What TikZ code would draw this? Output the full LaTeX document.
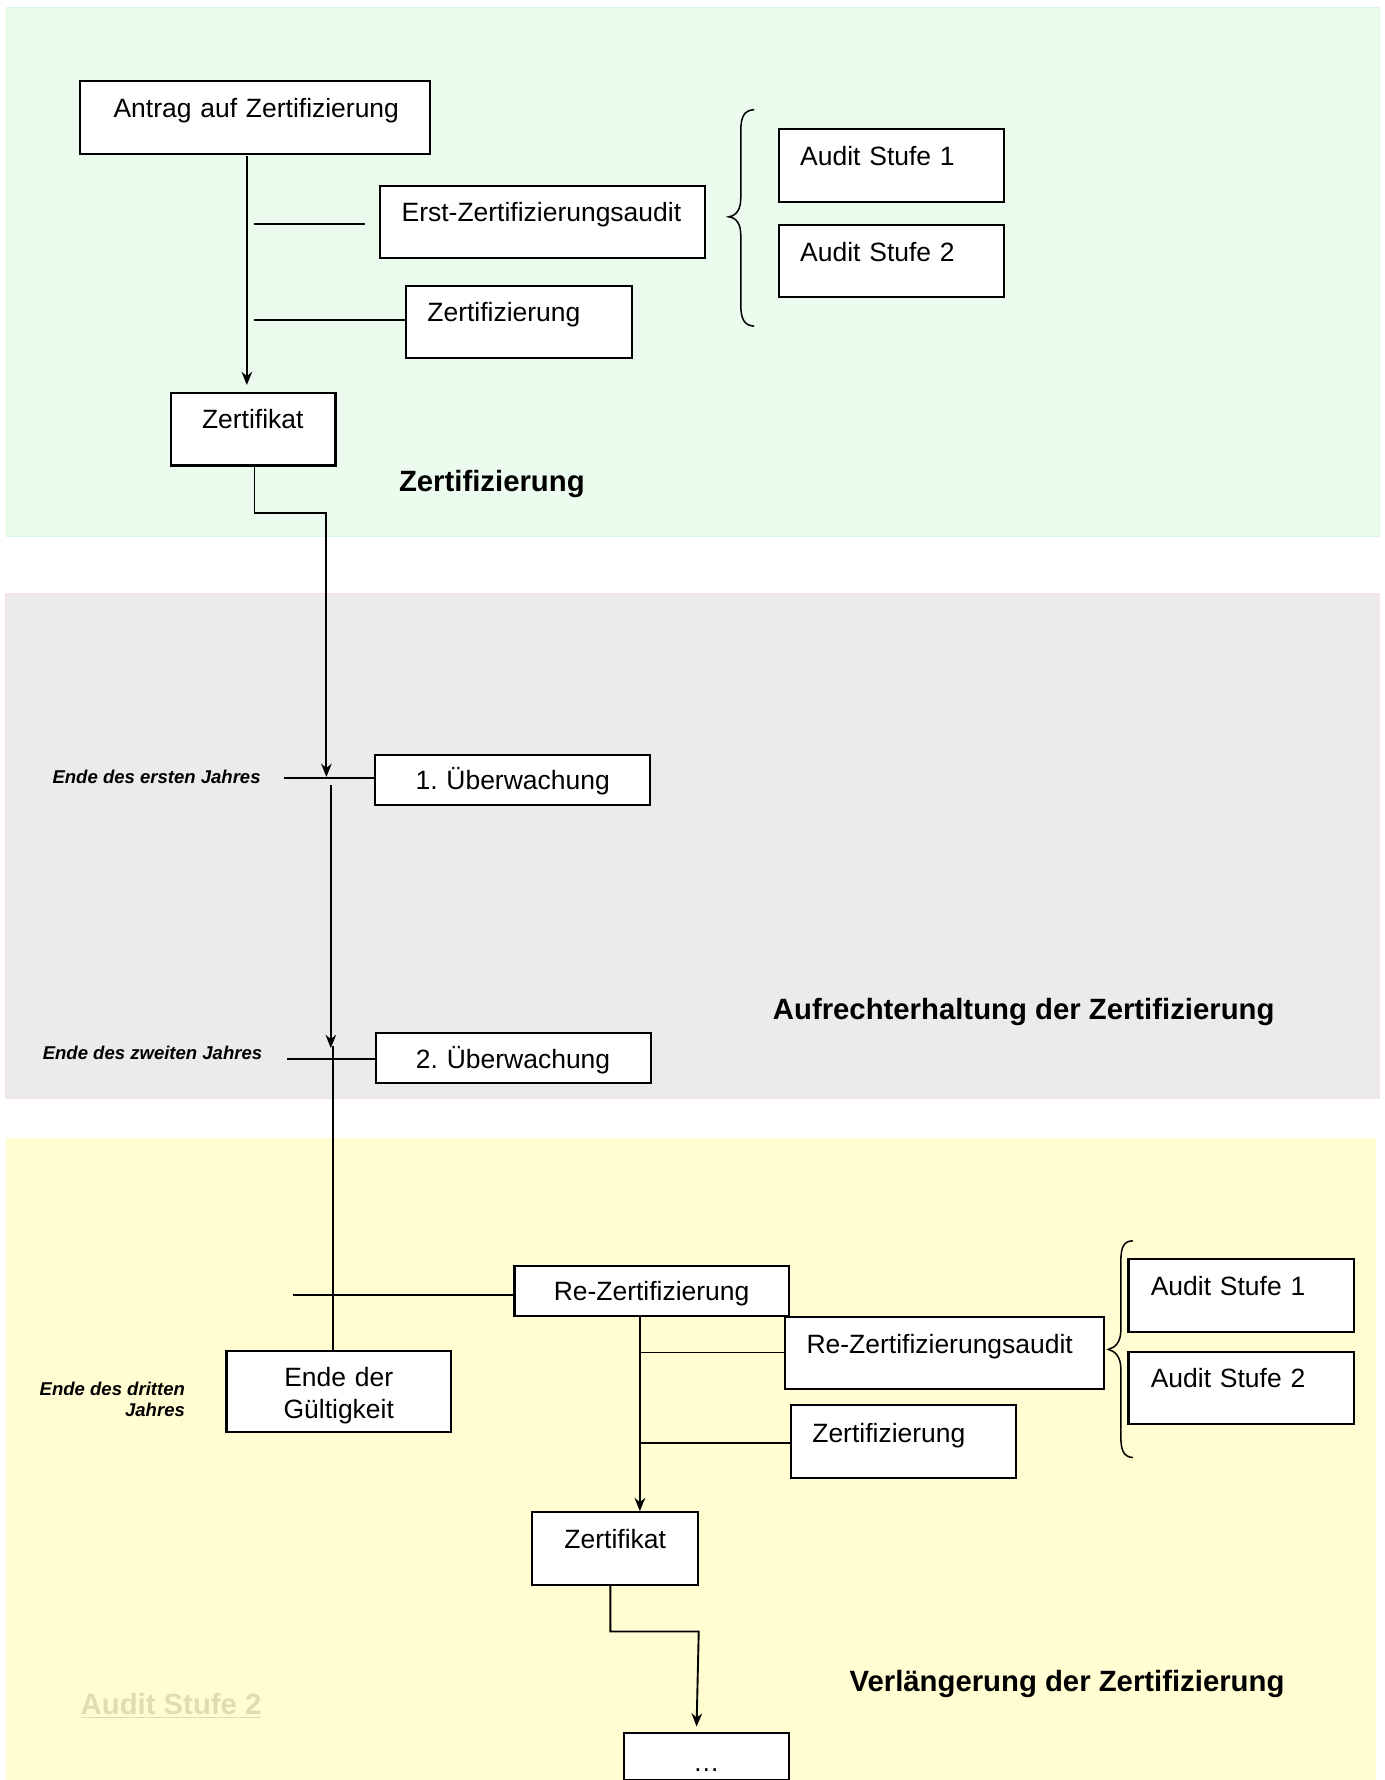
\documentclass[tikz,border=0pt]{standalone}
\usepackage{fontspec}
\setmainfont{Liberation Sans}
\usetikzlibrary{arrows.meta}
\frenchspacing
\definecolor{grnfill}{HTML}{EBFCEF}
\definecolor{grnline}{HTML}{DCF5E1}
\definecolor{gryfill}{HTML}{ECEBEB}
\definecolor{gryline}{HTML}{F5E1E6}
\definecolor{yelfill}{HTML}{FFFDD1}
\definecolor{ghost}{HTML}{E2DDAE}
\tikzset{
  boxL/.style={draw=black, fill=white, line width=1.1pt, inner sep=0pt, anchor=north west, align=left, font=\fontsize{14}{16.8}\selectfont},
  boxC/.style={boxL, align=center},
  conn/.style={line width=1pt, black},
  arr/.style={conn, -{Stealth[length=7pt,width=5.6pt]}},
  brace/.style={line width=0.8pt, black},
  phase/.style={anchor=base west, inner sep=0pt, font=\fontsize{15.5}{18}\selectfont\bfseries},
  yearlbl/.style={inner sep=0pt, font=\fontsize{9.8}{11}\selectfont\bfseries\itshape}
}
\begin{document}
\begin{tikzpicture}[x=0.6pt,y=-0.6pt]
\useasboundingbox (0,0) rectangle (1220,1569);
% regions
\fill[grnfill, draw=grnline, line width=0.6pt] (5.9,6.5) rectangle (1215.8,473.2);
\fill[gryfill, draw=gryline, line width=0.6pt] (5.1,523.6) rectangle (1215.8,968.5);
\fill[yelfill] (5.1,1003.3) rectangle (1213,1572);

% ---------- Zertifizierung ----------
\node[boxL, text width=185.1pt, text height=19.1pt, text depth=19.5pt] (antrag) at (70,70.5) {\hspace*{17.5pt}Antrag auf Zertifizierung};
\node[boxL, text width=171.9pt, text height=19.0pt, text depth=19.2pt] (erst) at (334.1,163.1) {\hspace*{11.4pt}Erst-Zertifizierungsaudit};
\node[boxL, text width=119.3pt, text height=18.8pt, text depth=19.5pt] (zert1) at (357.3,251) {\hspace*{11.1pt}Zertifizierung};
\node[boxL, text width=87.2pt, text height=18.7pt, text depth=19.5pt] (zk1) at (149.5,345.7) {\hspace*{16.6pt}Zertifikat};
\node[boxL, text width=119.3pt, text height=19.3pt, text depth=19.3pt] (as1) at (685.6,112.7) {\hspace*{11.3pt}Audit Stufe 1};
\node[boxL, text width=119.3pt, text height=19.1pt, text depth=19.2pt] (as2) at (685.6,197.4) {\hspace*{11.3pt}Audit Stufe 2};
\node[phase] (lblz) at (351.4,433.6) {Zertifizierung};

\coordinate (a1s) at (217.6,137.6);
\coordinate (a1e) at (217.6,339.4);
\draw[arr] (a1s) -- (a1e);
\coordinate (b1s) at (224.3,197.7);
\coordinate (b1e) at (321.9,197.7);
\draw[conn] (b1s) -- (b1e);
\coordinate (b2s) at (224.3,282.4);
\draw[conn] (b2s) -- (b2s -| zert1.west);
\coordinate (c1a) at (224.3,409.8);
\coordinate (c1b) at (224.3,451.8);
\coordinate (c1c) at (287.7,451.8);
\coordinate (c1d) at (287.7,684.8);
\draw[arr] (c1a) -- (c1b) -- (c1c) -- (c1d);
\draw[brace] (664.8,96.7) .. controls (656,97) and (653,103) .. (653,115) -- (653,174)
  .. controls (653,185) and (649,190) .. (642.4,191.1)
  .. controls (649,192) and (653,197) .. (653,208) -- (653,269)
  .. controls (653,281) and (656,287) .. (664.8,287.5);

% ---------- Aufrechterhaltung ----------
\node[boxC, text width=145.4pt, text height=18.5pt, text depth=8.1pt] (ue1) at (329.8,664.4) {1. Überwachung};
\node[boxC, text width=145.4pt, text height=18.5pt, text depth=7.9pt] (ue2) at (330.2,910) {2. Überwachung};
\node[yearlbl, anchor=base west] (y1) at (46,690.8) {Ende des ersten Jahres};
\node[yearlbl, anchor=base west] (y2) at (37.4,933.6) {Ende des zweiten Jahres};
\node[phase] (lbla) at (681,899) {Aufrechterhaltung der Zertifizierung};

\coordinate (d1s) at (250.3,685.5);
\draw[conn] (d1s) -- (d1s -| ue1.west);
\coordinate (v2s) at (291.6,692.1);
\coordinate (v2e) at (291.6,923.8);
\draw[arr] (v2s) -- (v2e);
\coordinate (d2s) at (253,933.6);
\draw[conn] (d2s) -- (d2s -| ue2.west);

% ---------- Verlaengerung ----------
\node[boxC, text width=145pt, text height=18.3pt, text depth=8.5pt] (rez) at (452.6,1114.8) {Re-Zertifizierung};
\node[boxC, text width=118.8pt, minimum height=42.4pt] (ende) at (198.7,1190.3) {\rule{0pt}{14.4pt}Ende der\\Gültigkeit};
\node[boxL, text width=168.5pt, text height=19.3pt, text depth=18.9pt] (reza) at (691.2,1159.8) {\hspace*{11.3pt}Re-Zertifizierungsaudit};
\node[boxL, text width=119.2pt, text height=19.6pt, text depth=18.6pt] (zert2) at (696.3,1237.9) {\hspace*{11.3pt}Zertifizierung};
\node[boxL, text width=87.4pt, text height=19.4pt, text depth=19.0pt] (zk2) at (468.3,1332) {\hspace*{17pt}Zertifikat};
\node[boxL, text width=119.5pt, text height=19.4pt, text depth=18.9pt] (as3) at (993.8,1109.1) {\hspace*{11.8pt}Audit Stufe 1};
\node[boxL, text width=119.5pt, text height=18.7pt, text depth=19.5pt] (as4) at (993.8,1190.6) {\hspace*{11.8pt}Audit Stufe 2};
\node[boxC, text width=87.2pt, text height=20.4pt, text depth=4.7pt] (dots) at (549,1526.3) {…};
\node[yearlbl, anchor=north east, align=right] (y3) at (163.3,1218) {Ende des dritten\\Jahres};
\node[phase] (lblv) at (748.6,1491) {Verlängerung der Zertifizierung};
\node[phase, text=ghost] (ghost) at (70.8,1510.9) {\underline{Audit Stufe 2}};

\coordinate (v3s) at (293.4,922);
\draw[conn] (v3s) -- (v3s |- ende.north);
\coordinate (e1s) at (258.2,1141.8);
\draw[conn] (e1s) -- (e1s -| rez.west);
\coordinate (v4s) at (564,1159.5);
\coordinate (v4e) at (564,1332);
\draw[arr] (v4s) -- (v4e);
\coordinate (f1s) at (564.7,1192.2);
\draw[conn] (f1s) -- (f1s -| reza.west);
\coordinate (f2s) at (564.7,1272.2);
\draw[conn] (f2s) -- (f2s -| zert2.west);
\coordinate (g1a) at (538,1396.5);
\coordinate (g1b) at (538,1438.1);
\coordinate (g1c) at (615.9,1438.1);
\coordinate (g1d) at (614,1521.9);
\draw[arr] (g1a) -- (g1b) -- (g1c) -- (g1d);
\draw[brace] (998.5,1093.7) .. controls (990,1094) and (988,1100) .. (988,1112) -- (988,1172)
  .. controls (988,1183) and (983,1188) .. (976.9,1189.4)
  .. controls (983,1191) and (988,1196) .. (988,1207) -- (988,1266)
  .. controls (988,1278) and (990,1284) .. (998.5,1284.8);
\end{tikzpicture}
\end{document}
